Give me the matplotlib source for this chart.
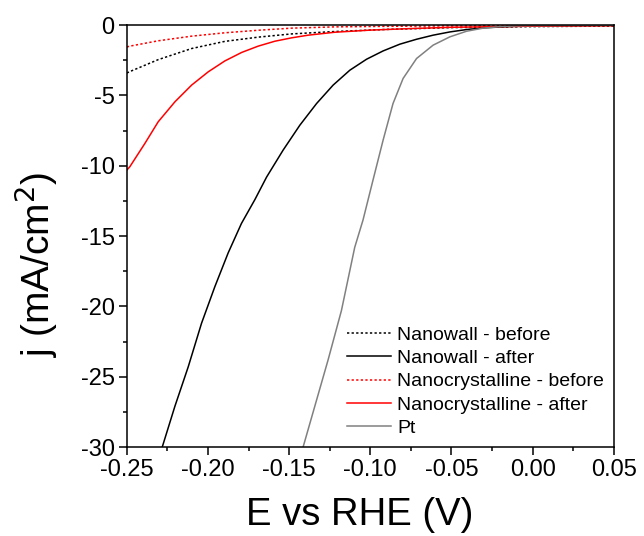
import matplotlib
matplotlib.use('Agg')
import matplotlib.pyplot as plt

plt.rcParams['font.family'] = ['Liberation Sans', 'DejaVu Sans']

# Nanowall - before (black dotted)
nw_before_E = [-0.25, -0.2482, -0.2307, -0.2101, -0.1896, -0.1691, -0.1485, -0.1218, -0.09, -0.05, 0.0, 0.05]
nw_before_j = [-3.4, -3.3, -2.45, -1.66, -1.15, -0.85, -0.62, -0.45, -0.3, -0.17, -0.1, -0.06]

# Nanowall - after (black solid)
nw_after_E = [-0.2295, -0.2282, -0.2204, -0.2122, -0.2040, -0.1958, -0.1876, -0.1794, -0.1711,
              -0.1639, -0.1537, -0.1434, -0.1331, -0.1229, -0.1126, -0.1023, -0.0921, -0.0818,
              -0.0715, -0.0613, -0.051, -0.0407, -0.0305, -0.015, 0.0, 0.05]
nw_after_j = [-30.6, -30.0, -27.1, -24.3, -21.2, -18.6, -16.2, -14.1, -12.4,
              -10.8, -8.88, -7.11, -5.57, -4.26, -3.20, -2.42, -1.83, -1.35,
              -1.0, -0.71, -0.48, -0.31, -0.19, -0.1, -0.05, -0.02]

# Nanocrystalline - before (red dotted)
nc_before_E = [-0.25, -0.2482, -0.2307, -0.2101, -0.1896, -0.1691, -0.1485, -0.1218, -0.09, -0.05, 0.0, 0.05]
nc_before_j = [-1.55, -1.49, -1.11, -0.78, -0.54, -0.36, -0.21, -0.12, -0.08, -0.05, -0.03, -0.02]

# Nanocrystalline - after (red solid)
nc_after_E = [-0.25, -0.2482, -0.2389, -0.2307, -0.2204, -0.2101, -0.1999, -0.1896, -0.1793,
              -0.1691, -0.1588, -0.1485, -0.1383, -0.1218, -0.10, -0.075, -0.05, 0.0, 0.05]
nc_after_j = [-10.3, -10.07, -8.41, -6.87, -5.45, -4.26, -3.32, -2.54, -1.94,
              -1.49, -1.14, -0.90, -0.71, -0.50, -0.35, -0.24, -0.15, -0.07, -0.03]

# Pt (gray solid)
pt_E = [-0.1425, -0.1414, -0.1342, -0.1260, -0.1178, -0.1096, -0.1045, -0.0983, -0.0921,
        -0.0860, -0.0798, -0.0715, -0.0613, -0.051, -0.0407, -0.0305, -0.02, -0.01, 0.0, 0.05]
pt_j = [-30.6, -30.0, -27.1, -23.8, -20.3, -15.8, -13.86, -11.0, -8.17,
        -5.57, -3.79, -2.37, -1.42, -0.83, -0.43, -0.21, -0.1, -0.05, -0.03, 0.0]

fig = plt.figure(figsize=(6.44, 5.36), dpi=100)
ax = fig.add_axes([0.197, 0.166, 0.756, 0.787])

lw = 1.1
ax.plot(nw_before_E, nw_before_j, color='black', lw=lw, ls=(0, (1.5, 1.5)), label='Nanowall - before')
ax.plot(nw_after_E, nw_after_j, color='black', lw=lw, label='Nanowall - after')
ax.plot(nc_before_E, nc_before_j, color='red', lw=lw, ls=(0, (1.5, 1.5)), label='Nanocrystalline - before')
ax.plot(nc_after_E, nc_after_j, color='red', lw=lw, label='Nanocrystalline - after')
ax.plot(pt_E, pt_j, color='#808080', lw=lw, label='Pt')

ax.set_xlim(-0.25, 0.05)
ax.set_ylim(-30, 0)
ax.set_xticks([-0.25, -0.20, -0.15, -0.10, -0.05, 0.00, 0.05])
ax.set_xticklabels(['-0.25', '-0.20', '-0.15', '-0.10', '-0.05', '0.00', '0.05'])
ax.set_yticks([0, -5, -10, -15, -20, -25, -30])
ax.set_yticklabels(['0', '-5', '-10', '-15', '-20', '-25', '-30'])
ax.set_xticks([-0.225, -0.175, -0.125, -0.075, -0.025, 0.025], minor=True)
ax.set_yticks([-2.5, -7.5, -12.5, -17.5, -22.5, -27.5], minor=True)

ax.tick_params(which='major', direction='out', length=5.8, width=1.1, labelsize=17, pad=3)
ax.tick_params(which='minor', direction='out', length=2.9, width=1.1)
for s in ax.spines.values():
    s.set_linewidth(1.1)

ax.set_xlabel('E vs RHE (V)', fontsize=27.5)
ax.xaxis.set_label_coords(0.478, -0.118)
ax.set_ylabel('j (mA/cm$^2$)', fontsize=28)
ax.yaxis.set_label_coords(-0.137, 0.434)

ax.legend(loc='lower right', bbox_to_anchor=(1.0, 0.0), frameon=False, fontsize=14,
          handlelength=2.3, handletextpad=0.3, labelspacing=0.3, borderaxespad=0.1)

fig.savefig('out.png', dpi=100)
